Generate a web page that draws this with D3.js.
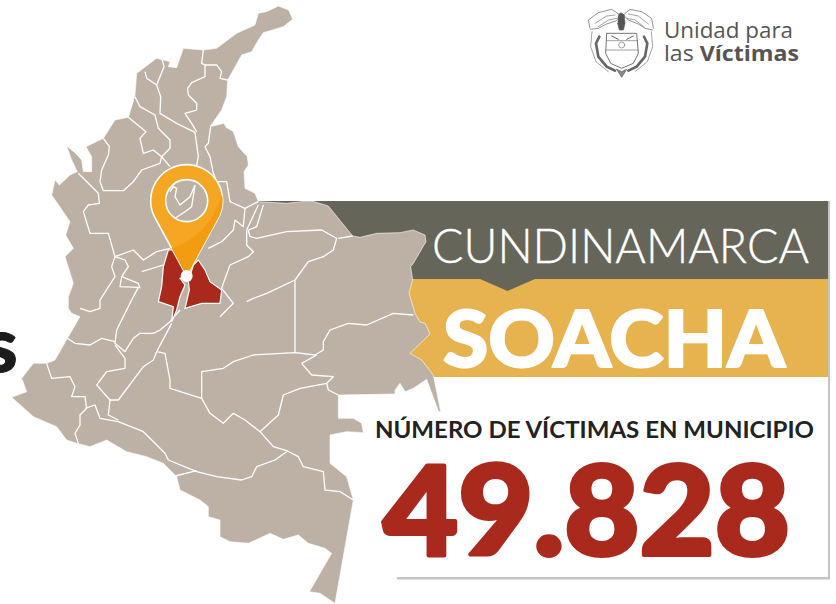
<!DOCTYPE html>
<html><head><meta charset="utf-8">
<script src="https://cdn.jsdelivr.net/npm/d3@7/dist/d3.min.js"></script>
<style>html,body{margin:0;padding:0;background:#fff;overflow:hidden}svg{display:block}</style>
</head><body><svg id="c" width="836" height="604"></svg>
<script>
// --- data ---
const department = "CUNDINAMARCA";
const municipality = "SOACHA";
const metricLabel = "NÚMERO DE VÍCTIMAS EN MUNICIPIO";
const victims = 49828;
const logoLines = ["Unidad para", "las ", "Víctimas"];
// map geometry in map units (1/3 px)
const countryOutline = [[835,18],[850,24],[866,30],[878,58],[850,80],[790,98],[775,120],[755,155],[725,165],[700,210],[683,240],[680,290],[665,330],[630,380],[672,370],[678,382],[700,395],[715,440],[742,470],[745,495],[732,515],[735,565],[765,580],[775,605],[860,610],[905,605],[935,603],[985,618],[1058,708],[1080,712],[1130,700],[1200,698],[1240,690],[1275,705],[1278,725],[1240,790],[1232,800],[1238,840],[1227,879],[1245,940],[1260,966],[1275,970],[1290,1002],[1230,1060],[1265,1080],[1300,1125],[1322,1235],[1316,1235],[1280,1138],[1240,1165],[1215,1175],[1200,1150],[1185,1170],[1185,1182],[1015,1185],[1015,1255],[1060,1255],[1085,1270],[1090,1298],[1040,1295],[990,1305],[990,1390],[1040,1430],[1060,1500],[1005,1810],[960,1780],[928,1775],[995,1660],[975,1645],[925,1630],[895,1605],[850,1618],[810,1600],[745,1630],[690,1625],[660,1610],[660,1560],[625,1550],[625,1520],[600,1500],[540,1470],[530,1430],[490,1390],[440,1370],[380,1355],[320,1320],[270,1340],[230,1330],[200,1320],[170,1280],[100,1250],[35,1192],[80,1175],[65,1135],[100,1090],[140,1090],[165,1080],[205,1010],[240,950],[215,940],[205,925],[205,890],[220,850],[195,770],[220,745],[197,705],[210,665],[155,585],[165,540],[178,555],[210,525],[232,515],[215,480],[200,438],[225,458],[245,480],[250,515],[275,515],[275,470],[258,440],[310,415],[345,360],[385,352],[395,320],[405,285],[410,220],[470,175],[510,185],[505,200],[530,203],[550,145],[610,150],[650,145],[710,100],[765,75],[775,40],[800,35]];
const borders = [
 [[610,150],[605,190],[615,195],[650,195],[665,215],[660,235],[683,240]],
 [[615,195],[615,230],[575,248],[563,265],[565,285],[590,310],[590,330],[555,340],[575,370],[590,395]],
 [[485,172],[492,200],[470,255],[482,290],[480,340],[530,370],[585,397],[595,470],[590,495]],
 [[435,215],[440,235],[470,255]],
 [[405,290],[420,320],[465,345],[475,385],[510,420],[510,445],[485,470],[510,500]],
 [[310,415],[328,440],[325,465],[305,510],[300,545],[310,572],[370,572],[400,545],[425,510],[480,490],[485,470],[460,450],[430,460],[420,415],[438,395],[385,352]],
 [[235,520],[295,580],[298,610],[265,615],[250,635],[270,700],[325,700],[345,770],[335,800],[345,830],[300,900],[300,925],[270,935],[240,925]],
 [[632,380],[625,430],[615,440],[630,470],[640,520],[650,545],[680,545],[690,605],[735,625],[775,605]],
 [[735,625],[730,680],[705,660],[700,690],[665,725],[625,745]],
 [[790,615],[770,680],[745,690],[750,710],[770,715],[860,695],[965,690],[1010,715],[1000,750],[970,770],[925,785],[885,840],[800,880],[760,895],[740,905]],
 [[1015,715],[1058,708]],
 [[775,615],[740,690],[740,735],[760,755],[745,770],[690,795],[670,850],[665,865],[700,910],[660,950]],
 [[345,770],[400,750],[430,780],[470,755],[510,745]],
 [[345,770],[375,780],[385,800],[365,830],[415,850],[420,865]],
 [[425,815],[490,795]],
 [[365,830],[360,860],[415,862],[395,900]],
 [[395,900],[350,990],[345,1030],[375,1055],[400,1015],[420,1000],[460,1000],[480,990],[510,965],[540,930]],
 [[195,1010],[225,1030],[270,1035],[305,1015],[345,1025]],
 [[345,1035],[375,1075],[375,1105],[320,1115],[290,1155],[330,1200],[355,1200],[430,1100],[460,1080],[470,1055],[515,970]],
 [[140,1090],[155,1135],[210,1130],[225,1160],[215,1190],[255,1190],[260,1225],[240,1245],[240,1275],[225,1300],[235,1330]],
 [[255,1225],[285,1215],[300,1255],[355,1265],[430,1295],[465,1330],[495,1360],[505,1380],[590,1415],[650,1430],[725,1440],[755,1430],[770,1400],[825,1380],[860,1355]],
 [[330,1200],[325,1245],[355,1260]],
 [[525,1428],[590,1412]],
 [[470,1055],[495,1060],[510,1140],[510,1165],[605,1195],[630,1240],[670,1270],[700,1240],[735,1260],[780,1295],[820,1340],[860,1352],[895,1370],[910,1400],[970,1415],[975,1470],[1020,1475],[1060,1500]],
 [[605,1195],[605,1115],[670,1105],[700,1085],[760,1065],[885,1058],[945,1065]],
 [[885,840],[885,1058]],
 [[945,1065],[970,1050],[970,1025],[990,990],[1045,970],[1100,975],[1180,940],[1240,945]],
 [[905,1090],[950,1065]],
 [[905,1090],[935,1125],[1000,1130],[980,1150],[900,1165],[850,1185],[835,1245],[780,1295]],
 [[980,1150],[985,1170],[1015,1185]],
 [[510,575],[520,560],[530,565],[525,590],[540,615],[570,590],[585,555]],
 [[525,655],[555,635],[575,620],[585,556]]
];
const dept = [
 [[505,750],[530,750],[570,825],[540,835],[555,855],[540,890],[530,930],[515,965],[520,920],[475,905],[485,860],[490,800]],
 [[595,780],[615,810],[630,845],[665,870],[660,910],[605,910],[555,925],[568,870],[565,845],[580,795]]
];
const pinCenter = [560, 602], pinRadius = 108, pinHole = 63, pinTip = [560, 828];

// --- scales ---
const x = d3.scaleLinear().domain([0,2508]).range([0,836]);
const y = d3.scaleLinear().domain([0,1812]).range([0,604]);
const r = d3.scaleLinear().domain([0,2508]).range([0,836]);
const line = d3.line().x(d=>x(d[0])).y(d=>y(d[1]));
const closed = d3.line().x(d=>x(d[0])).y(d=>y(d[1])).curve(d3.curveLinearClosed);
const svg = d3.select("#c");
const fmt = d3.formatLocale({decimal:",",thousands:".",grouping:[3],currency:["$",""]}).format(",");

// --- panels ---
svg.append("rect").attr("x",396).attr("y",377).attr("width",434).attr("height",203).attr("fill","#fff");
svg.append("rect").attr("x",397).attr("y",577).attr("width",433).attr("height",2.5).attr("fill","#c4c4c4");
svg.append("rect").attr("x",828).attr("y",201).attr("width",2).attr("height",378).attr("fill","#c4c4c4");
svg.append("rect").attr("x",258).attr("y",201).attr("width",570).attr("height",78).attr("fill","#65655a");
svg.append("rect").attr("x",258).attr("y",279).attr("width",570).attr("height",98).attr("fill","#e6b34f");
svg.append("path").attr("d","M480,279L507.5,291L535,279Z").attr("fill","#65655a");

// --- map ---
const map = svg.append("g");
map.append("path").attr("d",closed(countryOutline)).attr("fill","#bdb1a5");
map.selectAll("path.b").data(borders).join("path").attr("class","b").attr("d",line)
  .attr("fill","none").attr("stroke","#fff").attr("stroke-width",1.3).attr("stroke-linejoin","round");
map.append("path").attr("d",closed(countryOutline)).attr("fill","none").attr("stroke","#fff").attr("stroke-width",0.6);
map.selectAll("path.d").data(dept).join("path").attr("class","d").attr("d",closed)
  .attr("fill","#a9291c").attr("stroke","#fff").attr("stroke-width",1.2);

// --- pin ---
const cx=x(pinCenter[0]), cy=y(pinCenter[1]), R=r(pinRadius), h=r(pinHole), tx=x(pinTip[0]), ty=y(pinTip[1]);
const ang=0.46;
const lx=cx-R*Math.cos(ang), ly=cy+R*Math.sin(ang), rx=cx+R*Math.cos(ang);
const outerPath=`M${tx},${ty}L${lx},${ly}A${R},${R} 0 1 1 ${rx},${ly}Z`;
const holePath=`M${cx+h},${cy}A${h},${h} 0 1 0 ${cx-h},${cy}A${h},${h} 0 1 0 ${cx+h},${cy}Z`;
const pinPath=outerPath+holePath;
svg.append("clipPath").attr("id","pc").append("path").attr("d",pinPath).attr("clip-rule","evenodd");
svg.append("path").attr("d",pinPath).attr("fill-rule","evenodd").attr("fill","#f5a623").attr("stroke","#fff").attr("stroke-width",1.6);
svg.append("path").attr("clip-path","url(#pc)").attr("fill","#f39c12")
  .attr("d",`M${cx+36},${cy-8}Q${cx+22},${cy+38} ${cx-18},${cy+48}L${cx},${cy+90}L${cx+50},${cy+30}Z`);
svg.append("circle").attr("cx",tx).attr("cy",ty).attr("r",6).attr("fill","#fff");

// --- texts ---
const T=(t,xp,yp,fs,fw,col,fam,len,sw)=>{const s=svg.append("text").attr("x",xp).attr("y",yp).attr("font-size",fs).attr("font-weight",fw).attr("fill",col).attr("font-family",fam).text(t);
  if(len) s.attr("textLength",len).attr("lengthAdjust","spacingAndGlyphs");
  if(sw) s.attr("stroke",col).attr("stroke-width",sw).attr("stroke-linejoin","round"); return s;};
T(department,432,263,47,300,"#fff","Lato,sans-serif",377,0.4);
T(municipality,443,367,78,900,"#fff","Lato,sans-serif",342,2);
T(metricLabel,375,438,23,700,"#222","Lato,sans-serif",439);
T(fmt(victims),383,555,124,900,"#a9291c","Lato,sans-serif",407,4);
T("s",-16,372,76,900,"#1c1c1c","Lato,sans-serif",0,1);

// logo text
T(logoLines[0],664,38,21,400,"#555","'Open Sans',sans-serif",129);
const lt=T(logoLines[1],664,61,21,400,"#555","'Open Sans',sans-serif");
lt.append("tspan").attr("font-weight",700).text(logoLines[2]);
lt.attr("textLength",135).attr("lengthAdjust","spacingAndGlyphs");

// logo crest
const crest=svg.append("g").attr("fill","none").attr("stroke","#666").attr("stroke-linecap","round");
const ox=570, oy=0, k=1/3;
const cp=(arr,sw,fill)=>crest.append("path").attr("d",d3.line().x(d=>ox+d[0]*k).y(d=>oy+d[1]*k)(arr)).attr("stroke-width",sw).attr("fill",fill||"none");
cp([[60,85],[55,60],[85,38],[125,28],[150,45],[140,62],[110,72],[85,85],[62,88]],0.7);
cp([[75,70],[110,48],[135,45]],0.6); cp([[85,80],[115,60],[140,55]],0.6);
cp([[250,85],[245,55],[215,35],[180,28],[160,45],[175,60],[205,72],[225,85],[248,90]],0.7);
cp([[235,72],[205,48],[175,42]],0.6); cp([[222,80],[195,60],[170,55]],0.6);
cp([[145,45],[152,38],[163,45],[165,70],[160,90],[148,90],[143,70]],0.8,"#555");
cp([[110,100],[200,100],[205,160],[190,190],[155,205],[122,190],[107,160],[110,100]],0.9);
cp([[110,122],[203,122]],0.6); cp([[108,150],[205,150]],0.6);
cp([[125,108],[145,118]],1); cp([[170,118],[190,108]],1);
crest.append("circle").attr("cx",ox+155*k).attr("cy",135*k).attr("r",3).attr("stroke-width",0.6);
cp([[88,110],[78,130],[85,170],[110,200],[135,212]],2.6,"none");
cp([[222,110],[232,130],[225,170],[200,200],[175,212]],2.6,"none");
cp([[66,95],[62,140],[78,185],[115,215]],0.6); cp([[244,95],[248,140],[232,185],[195,215]],0.6);
cp([[140,208],[155,232],[170,208],[155,215],[140,208]],0.8,"#888");
</script></body></html>
